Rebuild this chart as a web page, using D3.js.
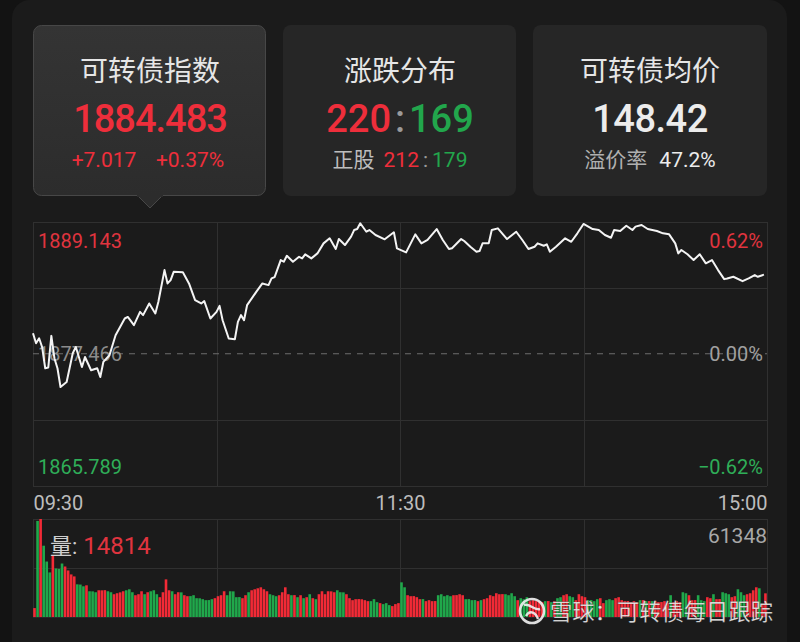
<!DOCTYPE html>
<html>
<head>
<meta charset="utf-8">
<script src="https://cdn.jsdelivr.net/npm/d3@7"></script>
<style>
body { margin: 0; background: #131313; }
svg { display: block; font-family: Roboto, "Noto Sans CJK SC", sans-serif; }
</style>
</head>
<body>
<div id="chart"></div>
<script>
var width = 800,
	height = 642,
	left = 33,
	right = 767,
	red = "#ee2e3b",
	green = "#22a64c";

// intraday index, minute from 09:30 (0..240, lunch break removed)
var minutes = [
	0, 1, 2, 3, 4, 5, 6, 7, 8, 9,
	11, 13, 14, 15, 16, 17, 19, 21, 22, 23,
	25, 27, 30, 31, 33, 35, 36, 38, 40, 41,
	43, 44, 45, 46, 49, 51, 53, 55, 56, 58,
	60, 61, 62, 64, 66, 67, 68, 69, 70, 73,
	75, 77, 78, 79, 81, 82, 83, 85, 87, 88,
	89, 91, 93, 95, 97, 99, 100, 102, 104, 105,
	106, 107, 109, 110, 112, 115, 118, 119, 122, 125,
	127, 129, 132, 134, 136, 137, 140, 141, 143, 145,
	146, 147, 149, 150, 152, 155, 158, 160, 162, 164,
	165, 167, 168, 169, 171, 174, 176, 178, 180, 183,
	185, 187, 189, 190, 192, 194, 196, 197, 199, 201,
	204, 206, 208, 210, 211, 212, 214, 216, 218, 220,
	222, 224, 226, 227, 229, 232, 234, 236, 237, 239
];
var prices = [
	1879.29, 1878.40, 1878.84, 1878.04, 1876.18, 1876.25, 1879.05, 1877.07, 1876.18, 1874.52,
	1874.96, 1877.51, 1878.07, 1877.18, 1876.29, 1877.18, 1876.00, 1876.18, 1875.41, 1876.74,
	1877.33, 1879.11, 1880.59, 1880.73, 1880.00, 1881.18, 1880.89, 1881.92, 1881.04, 1882.07,
	1884.88, 1883.70, 1883.99, 1884.73, 1884.68, 1883.70, 1882.22, 1881.92, 1882.13, 1880.59,
	1881.18, 1881.71, 1880.44, 1878.82, 1878.75, 1880.29, 1880.89, 1880.44, 1881.77, 1882.95,
	1883.70, 1883.55, 1884.14, 1884.26, 1885.77, 1885.62, 1886.15, 1885.62, 1886.06, 1885.92,
	1886.28, 1885.92, 1886.36, 1887.25, 1887.70, 1886.75, 1887.63, 1887.10, 1887.84, 1888.43,
	1888.52, 1889.03, 1888.28, 1888.43, 1887.99, 1887.61, 1888.23, 1886.81, 1886.45, 1888.05,
	1887.25, 1887.55, 1888.52, 1887.55, 1886.75, 1886.81, 1887.63, 1887.46, 1886.95, 1886.51,
	1886.57, 1887.25, 1887.25, 1888.43, 1888.58, 1887.63, 1888.28, 1887.55, 1886.75, 1886.95,
	1887.25, 1887.04, 1887.16, 1886.51, 1886.95, 1887.70, 1887.39, 1888.14, 1888.97, 1888.52,
	1888.43, 1887.99, 1887.75, 1888.43, 1888.34, 1888.81, 1888.43, 1888.73, 1888.88, 1888.52,
	1888.34, 1888.14, 1888.05, 1887.25, 1886.36, 1886.66, 1886.28, 1885.77, 1886.28, 1885.48,
	1885.77, 1884.88, 1884.08, 1884.14, 1884.29, 1883.90, 1884.14, 1884.44, 1884.29, 1884.48
];

// per-minute volume, 240 bars
var volumes = [
	5580, 60140, 61348, 44640, 34720, 27900, 38440, 30380, 30110, 33480,
	31620, 29140, 26660, 25420, 20460, 20310, 19220, 19840, 16120, 16050,
	15500, 16740, 16690, 16810, 16120, 15500, 14260, 14880, 15430, 16120,
	16740, 17360, 15500, 13640, 14260, 16120, 14260, 15500, 16120, 16740,
	14260, 12400, 15500, 23560, 16740, 16120, 14260, 15500, 15430, 13640,
	13020, 13080, 13640, 11780, 11720, 11160, 10540, 10600, 11160, 11780,
	13020, 13640, 16120, 13640, 16120, 16050, 12400, 12460, 11780, 13640,
	15500, 16740, 17360, 17980, 18600, 17360, 16120, 14260, 13640, 13020,
	13640, 15500, 18600, 14260, 13640, 13700, 12400, 13640, 11780, 12400,
	14260, 11780, 11160, 14260, 16120, 14260, 16120, 16050, 15500, 16740,
	15500, 15430, 14260, 11780, 10540, 11160, 11220, 11100, 10540, 9920,
	9920, 11160, 9300, 8680, 8060, 8680, 7440, 6820, 8060, 8680,
	21700, 18600, 13640, 13020, 13080, 12400, 11160, 11220, 9920, 10540,
	9920, 9980, 13640, 14260, 13020, 13640, 13020, 13640, 13700, 14260,
	13640, 11160, 11220, 10540, 10600, 9920, 10540, 11160, 11780, 13640,
	13020, 14880, 14260, 14320, 14260, 13640, 14880, 13020, 10540, 11780,
	11160, 12400, 9920, 10540, 9980, 9920, 9300, 9920, 9980, 9300,
	9920, 11780, 12400, 13640, 14260, 13020, 12400, 10540, 14260, 13020,
	12400, 10540, 10600, 9920, 11160, 11780, 8680, 10540, 11160, 10540,
	11780, 12400, 10540, 9920, 9980, 9300, 9920, 9300, 10540, 10600,
	9920, 9980, 9920, 9860, 9300, 9360, 9920, 8680, 13640, 9300,
	9920, 9300, 15500, 14880, 13640, 10540, 10600, 13640, 10540, 9920,
	12400, 11780, 14260, 11160, 11220, 15500, 14880, 14260, 12400, 13020,
	17360, 15500, 13640, 14260, 14880, 16740, 18600, 17980, 8060, 14814
];
// r = up minute, g = down minute
var volDir = [
	"rgrgggrggg", "rrrrgggrgg", "grrrggrrrr", "gggrrrgrgg", "grrrrgrrgr",
	"rggggggggr", "rrrgggggrr", "grrrrrrggg", "rrrrgrgrgr", "grgrrrrrrg",
	"ggrrrrrrrr", "gggrgggrrr", "ggrrrrrgrr", "rrgggggrrr", "rggggrgrrr",
	"rrrrggggrg", "ggrrrrrgrg", "rggrrggrrr", "rggggrrggg", "rrrrrrrrgr",
	"grgrrrrrgr", "rrggrrrggg", "rrgrrgggrr", "gggrrrrgrr"
].join("").split("");

var timeLabels = ["09:30", "11:30", "15:00"];
var timeTicks = [0, 120, 240];
var preClose = 1877.466,
	priceHigh = 1889.143,
	priceLow = 1865.789,
	volMax = 61348,
	lastVol = 14814;

var svg = d3.select("#chart").append("svg")
	.attr("width", width)
	.attr("height", height);

// panel
svg.append("rect")
	.attr("x", 12).attr("y", 0)
	.attr("width", 775).attr("height", 680)
	.attr("rx", 18)
	.attr("fill", "#1b1b1b");

// ---- cards ----
var defs = svg.append("defs");
var grad = defs.append("linearGradient")
	.attr("id", "card1")
	.attr("x1", 0).attr("y1", 0).attr("x2", 0).attr("y2", 1);
grad.append("stop").attr("offset", "0%").attr("stop-color", "#343434");
grad.append("stop").attr("offset", "100%").attr("stop-color", "#2c2c2c");

var cards = svg.append("g");
cards.append("path")
	.attr("d", "M136,194 L150,208 L164,194 Z")
	.attr("fill", "#2c2c2c")
	.attr("stroke", "#474747");
cards.append("rect")
	.attr("x", 33.5).attr("y", 25.5)
	.attr("width", 232).attr("height", 170)
	.attr("rx", 8)
	.attr("fill", "url(#card1)")
	.attr("stroke", "#474747");
cards.append("rect")
	.attr("x", 137).attr("y", 193)
	.attr("width", 26).attr("height", 4)
	.attr("fill", "#2c2c2c");
cards.append("rect")
	.attr("x", 283).attr("y", 25)
	.attr("width", 233).attr("height", 171)
	.attr("rx", 8)
	.attr("fill", "#262626");
cards.append("rect")
	.attr("x", 533).attr("y", 25)
	.attr("width", 234).attr("height", 171)
	.attr("rx", 8)
	.attr("fill", "#262626");

function cardText(x, y, size, color, txt, weight) {
	return cards.append("text")
		.attr("x", x).attr("y", y)
		.attr("text-anchor", "middle")
		.attr("font-size", size)
		.attr("font-weight", weight || 400)
		.attr("fill", color)
		.text(txt);
}

cardText(150, 81, 28, "#e6e6e6", "可转债指数");
cardText(150, 132, 38, red, "1884.483", 500).attr("letter-spacing", -1);
cardText(104, 167, 21, red, "+7.017");
cardText(190, 167, 21, red, "+0.37%");

cardText(400, 81, 28, "#e6e6e6", "涨跌分布");
var ud = cardText(400, 132, 38, red, "220", 500);
ud.text(null);
ud.append("tspan").attr("fill", red).text("220");
ud.append("tspan").attr("fill", "#9a9a9a").attr("dx", 4).text(":");
ud.append("tspan").attr("fill", green).attr("dx", 4).text("169");
var zg = cardText(400, 167, 21, "#bdbdbd", "", 400);
zg.append("tspan").attr("fill", "#bdbdbd").text("正股");
zg.append("tspan").attr("fill", red).attr("dx", 9).text("212");
zg.append("tspan").attr("fill", "#9a9a9a").attr("dx", 4).text(":");
zg.append("tspan").attr("fill", green).attr("dx", 4).text("179");

cardText(650, 81, 28, "#e6e6e6", "可转债均价");
cardText(650, 132, 38, "#ececec", "148.42", 500).attr("letter-spacing", -0.5);
var yj = cardText(650, 167, 21, "#b0b0b0", "", 400);
yj.append("tspan").attr("fill", "#b0b0b0").text("溢价率");
yj.append("tspan").attr("fill", "#ececec").attr("dx", 12).text("47.2%");

// ---- scales ----
var x = d3.scaleLinear().domain([0, 240]).range([left, right]);
var y = d3.scaleLinear().domain([priceLow, priceHigh]).range([485.5, 222]);
var yv = d3.scaleLinear().domain([0, volMax]).range([617, 519]);

var grid = svg.append("g")
	.attr("stroke", "#303030")
	.attr("stroke-width", 1);

var quarter = (priceHigh - priceLow) / 4;
[priceHigh, priceHigh - quarter, priceLow + quarter, priceLow].forEach(function(v) {
	grid.append("line")
		.attr("x1", left).attr("x2", right)
		.attr("y1", Math.round(y(v)) + 0.5).attr("y2", Math.round(y(v)) + 0.5);
});
[volMax, volMax / 2].forEach(function(v) {
	grid.append("line")
		.attr("x1", left).attr("x2", right)
		.attr("y1", Math.round(yv(v)) + 0.5).attr("y2", Math.round(yv(v)) + 0.5);
});
[0, 60, 120, 180, 240].forEach(function(m) {
	grid.append("line")
		.attr("x1", Math.round(x(m)) + 0.5).attr("x2", Math.round(x(m)) + 0.5)
		.attr("y1", 222).attr("y2", 486);
	grid.append("line")
		.attr("x1", Math.round(x(m)) + 0.5).attr("x2", Math.round(x(m)) + 0.5)
		.attr("y1", 519).attr("y2", 617);
});

// pre-close dashed line
svg.append("line")
	.attr("x1", left).attr("x2", right)
	.attr("y1", y(preClose)).attr("y2", y(preClose))
	.attr("stroke", "#6e6e6e")
	.attr("stroke-dasharray", "6,6");

// price axis labels
var labels = svg.append("g").attr("font-size", 20);
labels.append("text").attr("x", 38).attr("y", y(priceHigh) + 26)
	.attr("fill", "#e0343f").text(priceHigh.toFixed(3));
labels.append("text").attr("x", 38).attr("y", y(preClose) + 7)
	.attr("fill", "#8c8c8c").text(preClose.toFixed(3));
labels.append("text").attr("x", 38).attr("y", y(priceLow) - 12)
	.attr("fill", "#2fae58").text(priceLow.toFixed(3));
labels.append("text").attr("x", 763).attr("y", y(priceHigh) + 26)
	.attr("text-anchor", "end")
	.attr("fill", "#e0343f")
	.text("0.62%");
labels.append("text").attr("x", 763).attr("y", y(preClose) + 7)
	.attr("text-anchor", "end")
	.attr("fill", "#a0a0a0")
	.text("0.00%");
labels.append("text").attr("x", 763).attr("y", y(priceLow) - 12)
	.attr("text-anchor", "end")
	.attr("fill", "#2fae58")
	.text("\u22120.62%");

// price line
var line = d3.line()
	.x(function(d, i) { return x(minutes[i]); })
	.y(function(d) { return y(d); });

svg.append("path")
	.datum(prices)
	.attr("d", line)
	.attr("fill", "none")
	.attr("stroke", "#f4f4f4")
	.attr("stroke-width", 2)
	.attr("stroke-linejoin", "round");

// time axis
var xAxis = d3.axisBottom(x)
	.tickValues(timeTicks)
	.tickSize(0)
	.tickPadding(0)
	.tickFormat(function(d, i) { return timeLabels[i]; });

var axisG = svg.append("g")
	.attr("transform", "translate(0,495)")
	.call(xAxis);
axisG.select(".domain").remove();
axisG.selectAll("text")
	.attr("font-size", 20)
	.attr("font-family", "Roboto, sans-serif")
	.attr("fill", "#bdbdbd")
	.attr("dy", "0.75em")
	.attr("text-anchor", function(d, i) {
		return i === 0 ? "start" : (i === timeTicks.length - 1 ? "end" : "middle");
	});

// volume bars
var barW = (x(1) - x(0)) * 0.85;
svg.append("g")
	.selectAll("rect")
	.data(volumes)
	.enter()
	.append("rect")
	.attr("x", function(d, i) { return x(i) + 0.2; })
	.attr("y", function(d) { return yv(d); })
	.attr("width", barW)
	.attr("height", function(d) { return yv(0) - yv(d); })
	.attr("fill", function(d, i) { return volDir[i] === "r" ? "#f22a36" : "#20a84b"; });

svg.append("line")
	.attr("x1", left).attr("x2", right)
	.attr("y1", 617.5).attr("y2", 617.5)
	.attr("stroke", "#2a2a2a");

var vl = svg.append("text")
	.attr("x", 50).attr("y", 554)
	.attr("font-size", 24);
vl.append("tspan").attr("fill", "#cfcfcf").attr("font-size", 22).text("量:");
vl.append("tspan").attr("fill", "#e0343f").attr("dx", 6).text(lastVol);

svg.append("text")
	.attr("x", 767).attr("y", 543)
	.attr("text-anchor", "end")
	.attr("font-size", 21)
	.attr("fill", "#a8a8a8")
	.text(volMax);

// watermark
var wm = svg.append("g").attr("opacity", 0.92);
wm.append("circle")
	.attr("cx", 532).attr("cy", 611)
	.attr("r", 12)
	.attr("fill", "none")
	.attr("stroke", "#eeeeee")
	.attr("stroke-width", 2.6);
wm.append("path")
	.attr("d", "M524,605 C530,603 534,611 540,609 M526,616 C530,609 536,613 538,619")
	.attr("fill", "none")
	.attr("stroke", "#eeeeee")
	.attr("stroke-width", 2.4);
wm.append("text")
	.attr("x", 550).attr("y", 620)
	.attr("font-size", 22.3)
	.attr("font-family", "'Noto Sans CJK SC', sans-serif")
	.attr("fill", "#f2f2f2")
	.attr("stroke", "rgba(0,0,0,0.35)")
	.attr("stroke-width", 0.6)
	.text("雪球：可转债每日跟踪");
</script>
</body>
</html>
